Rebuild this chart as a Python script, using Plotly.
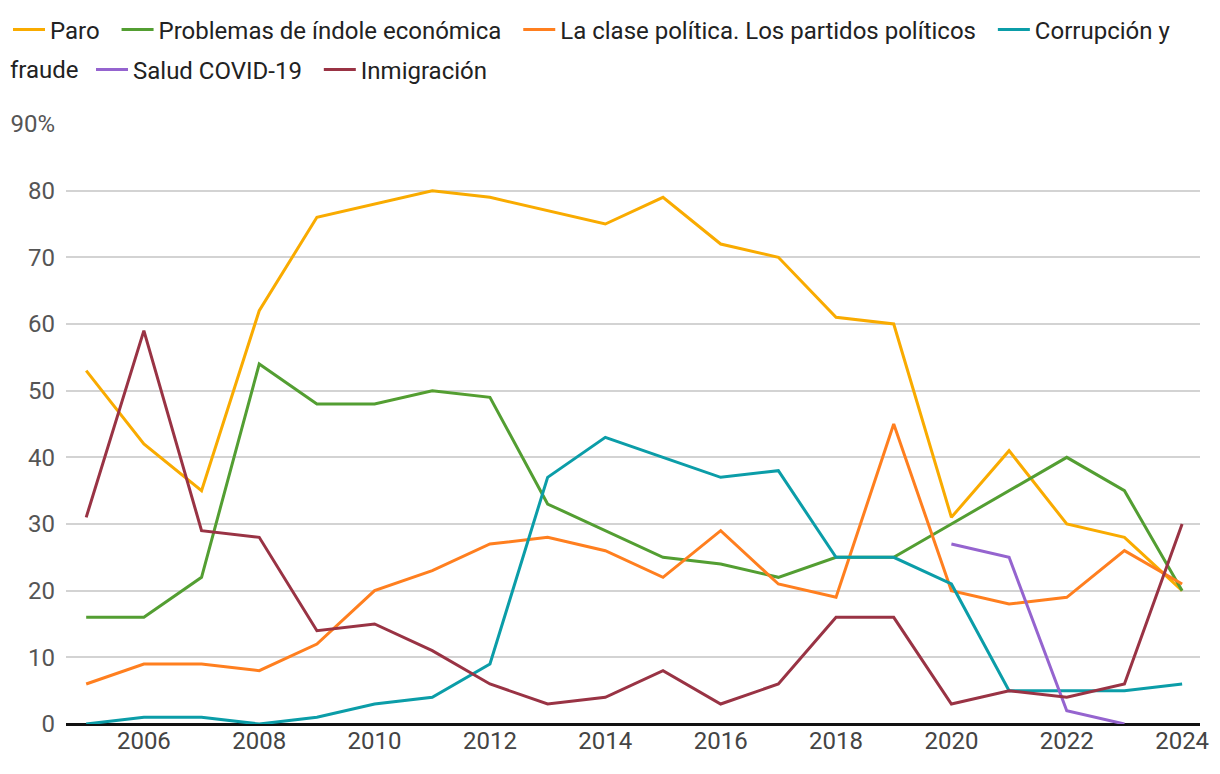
import plotly.graph_objects as go

years = list(range(2005, 2025))
paro = [53, 42, 35, 62, 76, 78, 80, 79, 77, 75, 79, 72, 70, 61, 60, 31, 41, 30, 28, 20]
economica = [16, 16, 22, 54, 48, 48, 50, 49, 33, 29, 25, 24, 22, 25, 25, 30, 35, 40, 35, 20]
politica = [6, 9, 9, 8, 12, 20, 23, 27, 28, 26, 22, 29, 21, 19, 45, 20, 18, 19, 26, 21]
corrupcion = [0, 1, 1, 0, 1, 3, 4, 9, 37, 43, 40, 37, 38, 25, 25, 21, 5, 5, 5, 6]
covid = [None] * 15 + [27, 25, 2, 0, None]
inmigracion = [31, 59, 29, 28, 14, 15, 11, 6, 3, 4, 8, 3, 6, 16, 16, 3, 5, 4, 6, 30]

NB = "\u00a0\u00a0"
# (legend label, values, colour, legend row)
series = [
    ("Paro" + NB, paro, "#F9AB00", "legend"),
    ("Problemas de índole económica" + NB, economica, "#539E32", "legend"),
    ("La clase política. Los partidos políticos" + NB, politica, "#FF7F1F", "legend"),
    ("Corrupción y", corrupcion, "#0B9DA8", "legend"),
    ("Salud COVID-19" + NB, covid, "#9564CF", "legend2"),
    ("Inmigración", inmigracion, "#993344", "legend2"),
]

y_ticks = [0, 10, 20, 30, 40, 50, 60, 70, 80, 90]
y_labels = ["0", "10", "20", "30", "40", "50", "60", "70", "80", "90%"]
x_ticks = list(range(2006, 2025, 2))

fig = go.Figure()
for name, vals, color, leg in series:
    fig.add_trace(go.Scatter(x=years, y=vals, name=name, mode="lines", legend=leg,
                             line=dict(color=color, width=3), connectgaps=False))

W, H = 1220, 774
ML, MR, MT, MB = 58, 28, 116, 58
PW, PH = W - ML - MR, H - MT - MB

legfont = dict(family="Roboto", size=24, color="#222222")
fig.update_layout(
    width=W, height=H,
    margin=dict(l=ML, r=MR, t=MT, b=MB, autoexpand=False),
    paper_bgcolor="white", plot_bgcolor="white",
    font=dict(family="Roboto", size=24, color="#222222"),
    showlegend=True,
    legend=dict(orientation="h", xref="paper", x=(0 - ML) / PW, xanchor="left",
                yref="paper", y=1 + (MT - 22) / PH, yanchor="middle",
                itemwidth=32, font=legfont, bgcolor="rgba(0,0,0,0)"),
    legend2=dict(orientation="h", xref="container", x=83 / W, xanchor="left",
                 yref="paper", y=1 + (MT - 62) / PH, yanchor="middle",
                 itemwidth=32, font=legfont, bgcolor="rgba(0,0,0,0)"),
    annotations=[dict(text="fraude", xref="paper", yref="paper",
                      x=(0 - ML) / PW, y=1 + (MT - 62) / PH, xanchor="left", yanchor="middle",
                      showarrow=False, font=legfont)],
    xaxis=dict(range=[2004.65, 2024.31], tickvals=x_ticks, showgrid=False,
               zeroline=False, showline=False, ticks="",
               tickfont=dict(family="Roboto", size=24, color="#444444")),
    yaxis=dict(range=[0, 90], tickvals=y_ticks, ticktext=y_labels,
               showgrid=True, gridcolor="#D3D3D3", gridwidth=2,
               zeroline=True, zerolinecolor="#111111", zerolinewidth=3,
               showline=False, ticks="", ticklabelstandoff=10,
               tickfont=dict(family="Roboto", size=24, color="#555555")),
)

fig.write_html("out.html")
